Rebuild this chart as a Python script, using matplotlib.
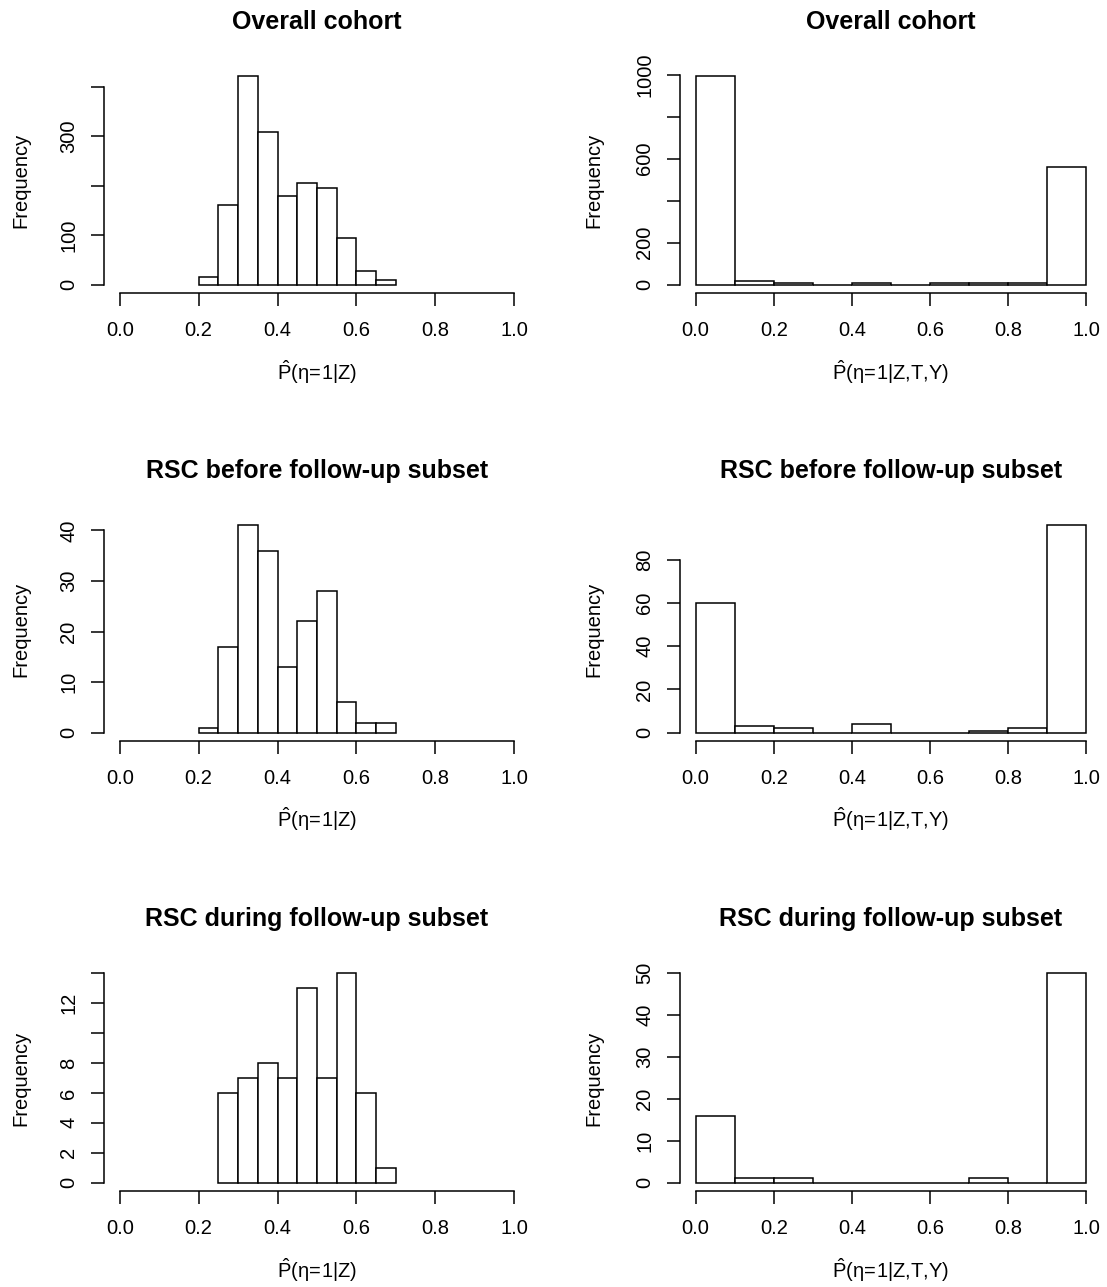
import matplotlib
matplotlib.use('Agg')
import numpy as np
import matplotlib.pyplot as plt

plt.rcParams['font.family'] = 'Liberation Sans'
plt.rcParams['mathtext.fontset'] = 'custom'
plt.rcParams['mathtext.rm'] = 'Liberation Sans'
plt.rcParams['mathtext.it'] = 'Liberation Sans'
plt.rcParams['mathtext.bf'] = 'Liberation Sans:bold'

# ── Histogram counts ─────────────────────────────────────────────────
TITLES = ['Overall cohort', 'RSC before follow-up subset', 'RSC during follow-up subset']
XLAB_Z = r'$\hat{P}(\eta\!=\!1|Z)$'
XLAB_ZTY = r'$\hat{P}(\eta\!=\!1|Z{,}T{,}Y)$'

# left column: P(eta=1|Z), bin width 0.05
z_edges_all = np.round(np.arange(0.20, 0.701, 0.05), 2)
z_counts_all = [16, 160, 421, 308, 180, 206, 196, 94, 28, 9]
z_edges_before = np.round(np.arange(0.20, 0.701, 0.05), 2)
z_counts_before = [1, 17, 41, 36, 13, 22, 28, 6, 2, 2]
z_edges_during = np.round(np.arange(0.25, 0.701, 0.05), 2)
z_counts_during = [6, 7, 8, 7, 13, 7, 14, 6, 1]

# right column: P(eta=1|Z,T,Y), bin width 0.1
zty_edges = np.round(np.arange(0.0, 1.001, 0.1), 1)
zty_counts_all = [992, 19, 9, 0, 8, 0, 7, 7, 7, 560]
zty_counts_before = [60, 3, 2, 0, 4, 0, 0, 1, 2, 96]
zty_counts_during = [16, 1, 1, 0, 0, 0, 0, 1, 0, 50]

# y ticks and which ones R labelled
yticks = [
    ([0, 100, 200, 300, 400], ['0', '100', '', '300', '']),
    ([0, 200, 400, 600, 800, 1000], ['0', '200', '', '600', '', '1000']),
    ([0, 10, 20, 30, 40], ['0', '10', '20', '30', '40']),
    ([0, 20, 40, 60, 80], ['0', '20', '40', '60', '80']),
    ([0, 2, 4, 6, 8, 10, 12, 14], ['0', '2', '4', '6', '8', '', '12', '']),
    ([0, 10, 20, 30, 40, 50], ['0', '10', '20', '30', '40', '50']),
]

panels = [
    (z_edges_all, z_counts_all, TITLES[0], XLAB_Z),
    (zty_edges, zty_counts_all, TITLES[0], XLAB_ZTY),
    (z_edges_before, z_counts_before, TITLES[1], XLAB_Z),
    (zty_edges, zty_counts_before, TITLES[1], XLAB_ZTY),
    (z_edges_during, z_counts_during, TITLES[2], XLAB_Z),
    (zty_edges, zty_counts_during, TITLES[2], XLAB_ZTY),
]

W, H = 1107, 1287
fig = plt.figure(figsize=(W / 100, H / 100), dpi=100)

col_x = [(104, 530), (680, 1102)]
row_y = [(68, 293), (517, 741), (965, 1191)]

for i, (edges, counts, title, xlab) in enumerate(panels):
    r, c = divmod(i, 2)
    x0, x1 = col_x[c]
    y0, y1 = row_y[r]
    ax = fig.add_axes([x0 / W, 1 - y1 / H, (x1 - x0) / W, (y1 - y0) / H])

    widths = np.diff(edges)
    ax.bar(edges[:-1], counts, width=widths, align='edge',
           facecolor='white', edgecolor='black', linewidth=1.1)

    ymax = max(counts)
    ax.set_xlim(-0.04, 1.04)
    ax.set_ylim(-0.04 * ymax, 1.04 * ymax)

    ax.spines['top'].set_visible(False)
    ax.spines['right'].set_visible(False)
    ax.spines['bottom'].set_bounds(0, 1)
    ticks, labels = yticks[i]
    ax.spines['left'].set_bounds(0, ticks[-1])
    for s in ('left', 'bottom'):
        ax.spines[s].set_linewidth(1.1)

    ax.set_xticks(np.round(np.arange(0, 1.01, 0.2), 1))
    ax.set_xticklabels(['0.0', '0.2', '0.4', '0.6', '0.8', '1.0'])
    ax.set_yticks(ticks)
    ax.set_yticklabels(labels, rotation=90, va='center')
    ax.tick_params(axis='both', length=9.5, width=1.1, labelsize=14.5)
    ax.tick_params(axis='x', pad=11)
    ax.tick_params(axis='y', pad=9)

    ax.set_title(title, fontsize=18, fontweight='bold', pad=28)
    ax.set_xlabel(xlab, fontsize=14.5)
    ax.xaxis.set_label_coords(0.5, -0.29)
    ax.set_ylabel('Frequency', fontsize=14.5)
    ax.yaxis.set_label_coords((30 - x0) / (x1 - x0) if c == 0 else (603 - x0) / (x1 - x0), 0.5)

fig.savefig('out.png', dpi=100)
